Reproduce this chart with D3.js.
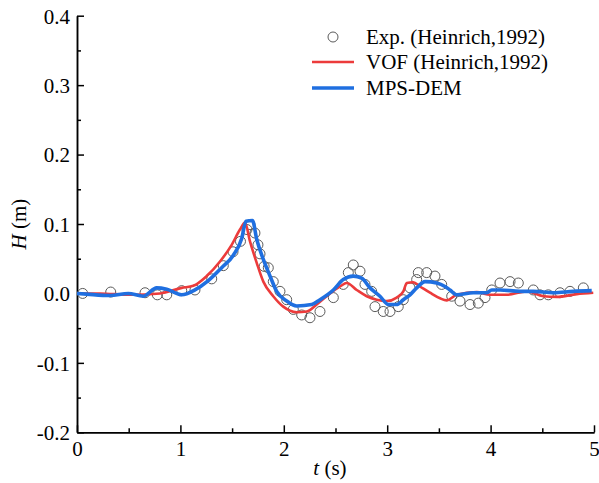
<!DOCTYPE html>
<html>
<head>
<meta charset="utf-8">
<script src="https://cdn.jsdelivr.net/npm/d3@7"></script>
<style>
  body { margin: 0; background: #fff; }
  svg text { font-family: "Liberation Serif", "Times New Roman", serif; fill: #000; }
</style>
</head>
<body>
<div id="chart"></div>
<script>
// Datos
const expT = [0.055, 0.326, 0.658, 0.777, 0.868, 1.013, 1.141, 1.303, 1.415, 1.509, 1.581, 1.644, 1.673, 1.721, 1.750, 1.770, 1.810, 1.850, 1.898, 1.963, 2.028, 2.092, 2.173, 2.253, 2.350, 2.479, 2.575, 2.624, 2.672, 2.737, 2.785, 2.850, 2.882, 2.962, 3.027, 3.107, 3.156, 3.221, 3.285, 3.301, 3.382, 3.462, 3.527, 3.624, 3.704, 3.801, 3.881, 3.946, 4.011, 4.091, 4.188, 4.268, 4.413, 4.478, 4.558, 4.671, 4.768, 4.897];
const expH = [0.000, 0.002, 0.001, -0.002, -0.002, 0.004, 0.005, 0.021, 0.040, 0.060, 0.075, 0.092, 0.099, 0.087, 0.070, 0.057, 0.039, 0.037, 0.017, 0.003, -0.009, -0.023, -0.031, -0.035, -0.026, -0.006, 0.013, 0.030, 0.041, 0.032, 0.013, 0.003, -0.019, -0.026, -0.026, -0.019, -0.009, 0.008, 0.020, 0.030, 0.030, 0.025, 0.013, -0.004, -0.011, -0.016, -0.014, -0.006, 0.005, 0.015, 0.017, 0.015, 0.005, -0.002, -0.002, 0.001, 0.003, 0.008];

const vofT = [0, 0.222, 0.513, 0.803, 1.013, 1.125, 1.254, 1.383, 1.496, 1.576, 1.625, 1.673, 1.738, 1.802, 1.898, 1.995, 2.125, 2.222, 2.318, 2.415, 2.544, 2.608, 2.705, 2.802, 2.898, 2.995, 3.092, 3.156, 3.189, 3.252, 3.317, 3.414, 3.511, 3.575, 3.672, 3.866, 3.994, 4.156, 4.349, 4.510, 4.639, 4.833, 4.993];
const vofH = [0, 0, -0.002, 0, 0.008, 0.011, 0.025, 0.046, 0.070, 0.092, 0.102, 0.075, 0.044, 0.017, -0.004, -0.019, -0.027, -0.026, -0.016, -0.004, 0.010, 0.015, 0.005, -0.004, -0.009, -0.011, -0.006, 0.003, 0.015, 0.016, 0.010, 0.001, -0.007, -0.010, -0.002, 0.002, -0.002, -0.002, 0.003, -0.004, -0.005, -0.001, 0.001];

const mpsT = [0, 0.094, 0.319, 0.496, 0.641, 0.771, 0.868, 1.013, 1.141, 1.267, 1.399, 1.512, 1.593, 1.634, 1.697, 1.738, 1.802, 1.867, 1.931, 2.028, 2.125, 2.270, 2.350, 2.479, 2.575, 2.672, 2.753, 2.834, 2.930, 3.011, 3.092, 3.156, 3.221, 3.285, 3.366, 3.479, 3.559, 3.607, 3.672, 3.833, 3.962, 4.011, 4.091, 4.284, 4.413, 4.606, 4.800, 4.978];
const mpsH = [0, -0.001, -0.003, 0, -0.004, 0.008, 0.006, -0.002, 0.005, 0.018, 0.037, 0.055, 0.079, 0.104, 0.105, 0.078, 0.049, 0.025, 0.003, -0.011, -0.018, -0.016, -0.009, 0.005, 0.020, 0.025, 0.022, 0.008, -0.004, -0.016, -0.016, -0.009, -0.002, 0.008, 0.017, 0.015, 0.010, 0.005, -0.002, 0.001, 0.001, 0.005, 0.005, 0.003, 0.003, 0.001, 0.003, 0.004];

const xTicks = [0, 1, 2, 3, 4, 5];
const xMinor = [0.5, 1.5, 2.5, 3.5, 4.5];
const yTicks = [-0.2, -0.1, 0.0, 0.1, 0.2, 0.3, 0.4];
const yMinor = [-0.15, -0.05, 0.05, 0.15, 0.25, 0.35];
const legendLabels = ['Exp. (Heinrich,1992)', 'VOF (Heinrich,1992)', 'MPS-DEM'];

const width = 599, height = 483;
const margin = { t: 15.7, r: 5, b: 50.7, l: 77 };
const red = '#ec3b3b', blue = '#1f6fe0', gray = '#5a5a5a';
const fs = 21;

const svg = d3.select('#chart').append('svg')
    .attr('width', width).attr('height', height);

const x = d3.scaleLinear().domain([0, 5]).range([margin.l, width - margin.r]);
const y = d3.scaleLinear().domain([-0.2, 0.4]).range([height - margin.b, margin.t]);

// Marcas menores (en grupos propios)
svg.append('g').attr('transform', `translate(0,${y(-0.2)})`)
    .call(d3.axisBottom(x).tickValues(xMinor).tickSizeInner(-4).tickSizeOuter(0).tickFormat(''));
svg.append('g').attr('transform', `translate(${x(0)},0)`)
    .call(d3.axisLeft(y).tickValues(yMinor).tickSizeInner(-4).tickSizeOuter(0).tickFormat(''));

// Ejes principales con marcas hacia dentro (guion simple para negativos)
const fmtY = d => d3.format('.1f')(d).replace('\u2212', '-');
const xAxis = svg.append('g').attr('transform', `translate(0,${y(-0.2)})`)
    .call(d3.axisBottom(x).tickValues(xTicks).tickSizeInner(-7).tickSizeOuter(0).tickFormat(d3.format('d')));
const yAxis = svg.append('g').attr('transform', `translate(${x(0)},0)`)
    .call(d3.axisLeft(y).tickValues(yTicks).tickSizeInner(-7).tickSizeOuter(0).tickFormat(fmtY));

svg.selectAll('.domain, .tick line').attr('stroke', '#000').attr('stroke-width', 1.5);
svg.selectAll('.tick text').attr('font-family', null).attr('font-size', fs);
xAxis.selectAll('text').attr('y', 5).attr('dy', '0.9em');
yAxis.selectAll('text').attr('x', -7).attr('dy', '0.35em');

// Títulos de ejes
svg.append('text')
    .attr('x', 330).attr('y', 475).attr('text-anchor', 'middle').attr('font-size', fs)
    .html('<tspan font-style="italic">t</tspan> (s)');
svg.append('text')
    .attr('transform', `translate(26,${y(0.1)}) rotate(-90)`)
    .attr('text-anchor', 'middle').attr('font-size', fs)
    .html('<tspan font-style="italic">H</tspan> (m)');

// Datos experimentales
const expData = expT.map((t, i) => ({ t, h: expH[i] }));
svg.append('g').selectAll('circle').data(expData).enter().append('circle')
    .attr('cx', d => x(d.t)).attr('cy', d => y(d.h)).attr('r', 5)
    .attr('fill', 'none').attr('stroke', gray).attr('stroke-width', 1);

const line = d3.line().x(d => x(d.t)).y(d => y(d.h)).curve(d3.curveMonotoneX);

svg.append('path')
    .datum(vofT.map((t, i) => ({ t, h: vofH[i] })))
    .attr('d', line).attr('fill', 'none').attr('stroke', red).attr('stroke-width', 2.6);

svg.append('path')
    .datum(mpsT.map((t, i) => ({ t, h: mpsH[i] })))
    .attr('d', line).attr('fill', 'none').attr('stroke', blue).attr('stroke-width', 3.6);

// Leyenda
const legend = svg.append('g');
const ly = [37, 62, 88];
legend.append('circle').attr('cx', 333).attr('cy', ly[0]).attr('r', 5)
    .attr('fill', 'none').attr('stroke', gray).attr('stroke-width', 1);
legend.append('line').attr('x1', 312).attr('x2', 354).attr('y1', ly[1]).attr('y2', ly[1])
    .attr('stroke', red).attr('stroke-width', 2.6);
legend.append('line').attr('x1', 312).attr('x2', 354).attr('y1', ly[2]).attr('y2', ly[2])
    .attr('stroke', blue).attr('stroke-width', 3.6);
legendLabels.forEach((lbl, i) => {
    legend.append('text').attr('x', 366).attr('y', ly[i]).attr('dy', '0.35em')
        .attr('font-size', fs).text(lbl);
});
</script>
</body>
</html>
